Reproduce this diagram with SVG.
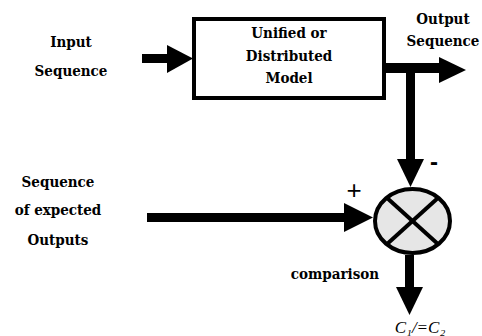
<svg xmlns="http://www.w3.org/2000/svg" width="482" height="336" viewBox="0 0 482 336">
<style>
text{fill:#000}
.t{font-family:"DejaVu Serif",serif;font-stretch:condensed;font-weight:700;font-size:15px;text-anchor:middle}
</style>
<rect width="482" height="336" fill="#fff"/>
<g id="input-label">
<text class="t" x="71" y="47">Input</text>
<text class="t" x="71" y="76">Sequence</text>
</g>
<g id="model">
<rect x="194" y="19" width="190" height="79" fill="#fff" stroke="#000" stroke-width="4"/>
<text class="t" x="289" y="38">Unified or</text>
<text class="t" x="289" y="61">Distributed</text>
<text class="t" x="289" y="83">Model</text>
</g>
<g id="output-label">
<text class="t" x="443" y="24">Output</text>
<text class="t" x="443" y="46">Sequence</text>
</g>
<g id="expected-label">
<text class="t" x="58" y="187">Sequence</text>
<text class="t" x="58" y="215">of expected</text>
<text class="t" x="58" y="245">Outputs</text>
</g>
<g id="comparator">
<ellipse cx="412.5" cy="221" rx="37.5" ry="32" fill="#e6e6e6" stroke="#000" stroke-width="4"/>
<line x1="386" y1="197" x2="439" y2="245" stroke="#000" stroke-width="4"/>
<line x1="439" y1="197" x2="386" y2="245" stroke="#000" stroke-width="4"/>
<text class="t" x="335" y="279">comparison</text>
</g>
<g id="result-label">
<text x="420" y="333" text-anchor="middle" font-family="'Liberation Serif','Times New Roman',serif" font-style="italic" font-size="17">C₁/=C₂</text>
</g>
<g id="connectors" fill="#000">
<rect x="142" y="54" width="26" height="9"/>
<polygon points="167,45 193,58.5 167,73"/>
<rect x="386" y="63" width="55" height="10"/>
<polygon points="439,57 466,70 439,83"/>
<rect x="406" y="63" width="9" height="97"/>
<polygon points="397,159 424,159 410.5,187"/>
<rect x="147" y="213" width="198" height="9"/>
<polygon points="344,203 373,217.5 344,232"/>
<rect x="405" y="255" width="9" height="33"/>
<polygon points="396,287 423,287 409.5,315"/>
<text x="354" y="199" text-anchor="middle" font-size="26" font-family="'Liberation Sans',Arial,sans-serif">+</text>
<text x="434" y="170" text-anchor="middle" font-size="24" font-weight="bold" font-family="'Liberation Sans',Arial,sans-serif">-</text>
</g>
</svg>
